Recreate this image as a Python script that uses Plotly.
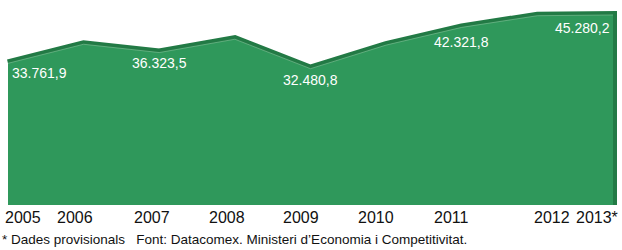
import plotly.graph_objects as go

years = [2005, 2006, 2007, 2008, 2009, 2010, 2011, 2012, 2013]
year_labels = ["2005", "2006", "2007", "2008", "2009", "2010", "2011", "2012", "2013*"]
values = [33761.9, 38300.0, 36323.5, 39500.0, 32480.8, 38100.0, 42321.8, 45100.0, 45280.2]
labelled_years = [2005, 2007, 2009, 2011, 2013]
labelled_text = ["33.761,9", "36.323,5", "32.480,8", "42.321,8", "45.280,2"]
footnote = "* Dades provisionals   Font: Datacomex. Ministeri d\u2019Economia i Competitivitat."

W, H = 622, 250
FILL = "rgb(47,152,91)"
TOP = "rgb(34,122,69)"
FONT = "Liberation Sans Narrow, Liberation Sans, Arial, sans-serif"

# plot geometry (pixels)
left_px, right_px, bottom_px = 8, 613, 205
ppy = (right_px - left_px) / (years[-1] - years[0])
x_range = [years[0] - left_px / ppy, years[-1] + (W - right_px) / ppy]
units_per_px = values[0] / (bottom_px - 63.3)
y_range = [0, bottom_px * units_per_px]

fig = go.Figure()
# dark 3D top band (thick line, half hidden by the front face)
fig.add_trace(go.Scatter(
    x=years + [years[-1]], y=values + [0], mode="lines",
    line=dict(color=TOP, width=8), hoverinfo="skip", showlegend=False))
# front face
fig.add_trace(go.Scatter(
    x=years, y=values, mode="lines", fill="tozeroy", fillcolor=FILL,
    line=dict(color="rgba(140,200,160,0.7)", width=0.8), hoverinfo="skip", showlegend=False))

offsets = [10, 10, 11, 15, 13]
for i, (yr, txt) in enumerate(zip(labelled_years, labelled_text)):
    v = values[years.index(yr)]
    xa = "left" if i == 0 else ("right" if i == len(labelled_years) - 1 else "center")
    xs = 2 if i == 0 else (-1 if i == len(labelled_years) - 1 else 0)
    fig.add_annotation(x=yr, y=v, text=txt, showarrow=False, xanchor=xa, yanchor="middle",
                       xshift=xs, yshift=-offsets[i],
                       font=dict(family=FONT, size=14, color="white"))

year_xshift = [-5, -9, -7, -8, -10, -10, -10, 15, 7]
for i, (yr, lab) in enumerate(zip(years, year_labels)):
    xa = "left" if i == 0 else ("right" if i == len(years) - 1 else "center")
    fig.add_annotation(x=yr, y=0, text=lab, showarrow=False, xanchor=xa, yanchor="middle",
                       xshift=year_xshift[i], yshift=-12,
                       font=dict(family=FONT, size=16, color="#111"))

fig.add_annotation(x=0, y=0, xref="paper", yref="paper", text=footnote, showarrow=False,
                   xanchor="left", yanchor="middle", xshift=0, yshift=-34,
                   font=dict(family=FONT, size=13.5, color="#111"))

fig.update_layout(
    width=W, height=H, margin=dict(l=0, r=0, t=0, b=H - bottom_px),
    paper_bgcolor="white", plot_bgcolor="white",
    xaxis=dict(range=x_range, visible=False, fixedrange=True),
    yaxis=dict(range=y_range, visible=False, fixedrange=True),
)
fig.write_html("out.html", config={"displayModeBar": False},
               post_script="document.body.style.margin='0';document.body.style.overflow='hidden';")
